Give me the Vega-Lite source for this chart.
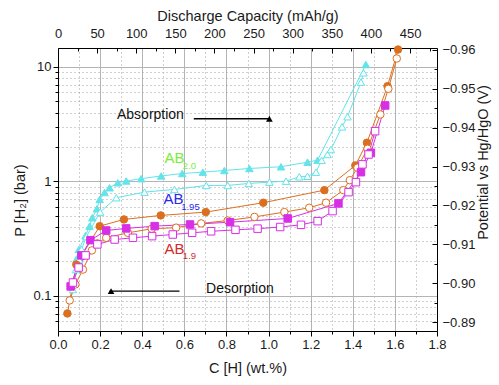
{
  "$schema": "https://vega.github.io/schema/vega-lite/v6.json",
  "width": 379,
  "height": 283,
  "autosize": {"type": "none"},
  "padding": {"left": 58, "top": 48, "right": 62, "bottom": 54},
  "background": "white",
  "config": {
    "view": {"stroke": null},
    "font": "Liberation Sans",
    "axis": {
      "labelFont": "Liberation Sans", "titleFont": "Liberation Sans",
      "labelFontSize": 13, "titleFontSize": 14.5, "titleFontWeight": "normal",
      "labelColor": "#1a1a1a", "titleColor": "#1a1a1a",
      "domainColor": "#000", "tickColor": "#000", "gridColor": "#b8b8b8",
      "labelFlush": false, "labelOverlap": false
    }
  },
  "datasets": {
    "series": [
      {"s":"a20","i":1,"x":0.088,"p":0.21},{"s":"a20","i":2,"x":0.099,"p":0.255},{"s":"a20","i":3,"x":0.131,"p":0.337},{"s":"a20","i":4,"x":0.150,"p":0.407},{"s":"a20","i":5,"x":0.163,"p":0.482},{"s":"a20","i":6,"x":0.185,"p":0.578},{"s":"a20","i":7,"x":0.198,"p":0.697},{"s":"a20","i":8,"x":0.221,"p":0.80},{"s":"a20","i":9,"x":0.245,"p":0.881},{"s":"a20","i":10,"x":0.284,"p":0.974},{"s":"a20","i":11,"x":0.324,"p":1.01},{"s":"a20","i":12,"x":0.395,"p":1.058},{"s":"a20","i":13,"x":0.490,"p":1.117},{"s":"a20","i":14,"x":0.590,"p":1.174},{"s":"a20","i":15,"x":0.688,"p":1.206},{"s":"a20","i":16,"x":0.790,"p":1.247},{"s":"a20","i":17,"x":0.909,"p":1.299},{"s":"a20","i":18,"x":1.059,"p":1.344},{"s":"a20","i":19,"x":1.185,"p":1.474},{"s":"a20","i":20,"x":1.233,"p":1.535},{"s":"a20","i":21,"x":1.462,"p":10.5},
      {"s":"d20","i":1,"x":0.071,"p":0.114},{"s":"d20","i":2,"x":0.085,"p":0.170},{"s":"d20","i":3,"x":0.100,"p":0.208},{"s":"d20","i":4,"x":0.112,"p":0.255},{"s":"d20","i":5,"x":0.135,"p":0.330},{"s":"d20","i":6,"x":0.200,"p":0.540},{"s":"d20","i":7,"x":0.277,"p":0.721},{"s":"d20","i":8,"x":0.411,"p":0.807},{"s":"d20","i":9,"x":0.553,"p":0.852},{"s":"d20","i":10,"x":0.704,"p":0.923},{"s":"d20","i":11,"x":0.806,"p":0.923},{"s":"d20","i":12,"x":0.906,"p":0.961},{"s":"d20","i":13,"x":1.004,"p":0.986},{"s":"d20","i":14,"x":1.083,"p":1.006},{"s":"d20","i":15,"x":1.146,"p":1.099},{"s":"d20","i":16,"x":1.185,"p":1.110},{"s":"d20","i":17,"x":1.225,"p":1.205},{"s":"d20","i":18,"x":1.252,"p":1.53},{"s":"d20","i":19,"x":1.280,"p":1.72},{"s":"d20","i":20,"x":1.296,"p":1.90},{"s":"d20","i":21,"x":1.349,"p":3.00},{"s":"d20","i":22,"x":1.375,"p":3.68},{"s":"d20","i":23,"x":1.439,"p":7.37},{"s":"d20","i":24,"x":1.451,"p":8.9},
      {"s":"a195","i":1,"x":0.0446,"p":0.0703},{"s":"a195","i":2,"x":0.087,"p":0.188},{"s":"a195","i":3,"x":0.198,"p":0.407},{"s":"a195","i":4,"x":0.313,"p":0.466},{"s":"a195","i":5,"x":0.488,"p":0.505},{"s":"a195","i":6,"x":0.702,"p":0.540},{"s":"a195","i":7,"x":0.975,"p":0.652},{"s":"a195","i":8,"x":1.265,"p":0.840},{"s":"a195","i":9,"x":1.412,"p":1.38},{"s":"a195","i":10,"x":1.467,"p":2.18},{"s":"a195","i":11,"x":1.565,"p":6.80},{"s":"a195","i":12,"x":1.615,"p":14.2},
      {"s":"d195","i":1,"x":0.0555,"p":0.0914},{"s":"d195","i":2,"x":0.0825,"p":0.126},{"s":"d195","i":3,"x":0.1185,"p":0.170},{"s":"d195","i":4,"x":0.161,"p":0.250},{"s":"d195","i":5,"x":0.187,"p":0.288},{"s":"d195","i":6,"x":0.229,"p":0.322},{"s":"d195","i":7,"x":0.332,"p":0.356},{"s":"d195","i":8,"x":0.445,"p":0.386},{"s":"d195","i":9,"x":0.561,"p":0.395},{"s":"d195","i":10,"x":0.680,"p":0.430},{"s":"d195","i":11,"x":0.806,"p":0.456},{"s":"d195","i":12,"x":0.933,"p":0.490},{"s":"d195","i":13,"x":1.075,"p":0.540},{"s":"d195","i":14,"x":1.193,"p":0.589},{"s":"d195","i":15,"x":1.273,"p":0.652},{"s":"d195","i":16,"x":1.355,"p":0.840},{"s":"d195","i":17,"x":1.386,"p":1.026},{"s":"d195","i":18,"x":1.422,"p":1.318},{"s":"d195","i":19,"x":1.470,"p":1.93},{"s":"d195","i":20,"x":1.531,"p":3.85},{"s":"d195","i":21,"x":1.569,"p":6.45},{"s":"d195","i":22,"x":1.609,"p":11.86},
      {"s":"a19","i":1,"x":0.060,"p":0.121},{"s":"a19","i":2,"x":0.111,"p":0.226},{"s":"a19","i":3,"x":0.154,"p":0.307},{"s":"a19","i":4,"x":0.229,"p":0.373},{"s":"a19","i":5,"x":0.324,"p":0.389},{"s":"a19","i":6,"x":0.459,"p":0.407},{"s":"a19","i":7,"x":0.627,"p":0.421},{"s":"a19","i":8,"x":0.817,"p":0.441},{"s":"a19","i":9,"x":1.091,"p":0.475},{"s":"a19","i":10,"x":1.332,"p":0.643},{"s":"a19","i":11,"x":1.439,"p":1.205},{"s":"a19","i":12,"x":1.486,"p":1.78},{"s":"a19","i":13,"x":1.554,"p":4.61},
      {"s":"d19","i":1,"x":0.071,"p":0.131},{"s":"d19","i":2,"x":0.098,"p":0.177},{"s":"d19","i":3,"x":0.131,"p":0.226},{"s":"d19","i":4,"x":0.187,"p":0.282},{"s":"d19","i":5,"x":0.269,"p":0.311},{"s":"d19","i":6,"x":0.356,"p":0.322},{"s":"d19","i":7,"x":0.447,"p":0.333},{"s":"d19","i":8,"x":0.545,"p":0.344},{"s":"d19","i":9,"x":0.637,"p":0.356},{"s":"d19","i":10,"x":0.727,"p":0.367},{"s":"d19","i":11,"x":0.843,"p":0.378},{"s":"d19","i":12,"x":0.948,"p":0.387},{"s":"d19","i":13,"x":1.055,"p":0.400},{"s":"d19","i":14,"x":1.154,"p":0.418},{"s":"d19","i":15,"x":1.233,"p":0.450},{"s":"d19","i":16,"x":1.304,"p":0.551},{"s":"d19","i":17,"x":1.380,"p":0.807},{"s":"d19","i":18,"x":1.415,"p":0.986},{"s":"d19","i":19,"x":1.446,"p":1.41},{"s":"d19","i":20,"x":1.475,"p":1.72},{"s":"d19","i":21,"x":1.506,"p":2.75}
    ],
    "arrows": [
      {"x":0.645,"x2":1.0,"p":3.53,"hx":1.004,"d":"r"},
      {"x":0.577,"x2":0.245,"p":0.110,"hx":0.252,"d":"l"}
    ],
    "words": [
      {"t":"Absorption","x":0.439,"p":3.77},
      {"t":"Desorption","x":0.864,"p":0.114}
    ],
    "ab": [
      {"k":"20","t":"AB","x":0.506,"p":1.61},
      {"k":"195","t":"AB","x":0.501,"p":0.696},
      {"k":"19","t":"AB","x":0.506,"p":0.255}
    ],
    "subs": [
      {"k":"20","t":"2.0","x":0.593,"p":1.36},
      {"k":"195","t":"1.95","x":0.585,"p":0.601},
      {"k":"19","t":"1.9","x":0.593,"p":0.223}
    ]
  },
  "layer": [
    {
      "data": {"values": [{"x": 0, "p": 1}]},
      "mark": {"type": "point", "opacity": 0},
      "encoding": {
        "x": {"field": "x", "type": "quantitative", "scale": {"domain": [0, 1.8], "nice": false, "zero": false},
          "axis": {"orient": "bottom", "values": [0.1,0.3,0.5,0.7,0.9,1.1,1.3,1.5,1.7], "labels": false, "domain": false, "tickSize": 3, "grid": true, "gridDash": [1,3], "gridColor": "#a0a0a0", "title": null}},
        "y": {"field": "p", "type": "quantitative", "scale": {"type": "log", "domain": [0.0494, 14.65], "nice": false},
          "axis": {"orient": "left", "values": [0.06,0.07,0.08,0.09,0.2,0.3,0.4,0.5,0.6,0.7,0.8,0.9,2,3,4,5,6,7,8,9], "labels": false, "domain": false, "tickSize": 3, "grid": true, "gridDash": [1,3], "gridColor": "#a0a0a0", "title": null}}
      }
    },
    {
      "encoding": {
        "x": {"field": "x", "type": "quantitative", "scale": {"domain": [0, 1.8], "nice": false, "zero": false},
          "axis": {"orient": "bottom", "values": [0,0.2,0.4,0.6,0.8,1.0,1.2,1.4,1.6,1.8], "format": ".1f", "tickSize": 5, "grid": true, "gridColor": "#b4b4b4", "title": "C [H] (wt.%)", "labelPadding": 2, "titlePadding": 10}},
        "y": {"field": "p", "type": "quantitative", "scale": {"type": "log", "domain": [0.0494, 14.65], "nice": false},
          "axis": {"orient": "left", "values": [0.1, 1, 10], "format": "~g", "tickSize": 5, "grid": true, "gridColor": "#b4b4b4", "title": "P [H₂] (bar)", "labelPadding": 2, "titlePadding": 5, "titleY": 152}}
      },
      "layer": [
        {
          "data": {"name": "series"},
          "mark": {"type": "line", "strokeWidth": 1},
          "encoding": {
            "stroke": {"field": "s", "type": "nominal", "legend": null,
              "scale": {"domain": ["a20","d20","a195","d195","a19","d19"], "range": ["#62e4ea","#62e4ea","#dc6f1f","#dc6f1f","#d82ee6","#d82ee6"]}},
            "order": {"field": "i", "type": "quantitative"}
          }
        },
        {
          "data": {"name": "series"},
          "mark": {"type": "point", "filled": true, "size": 56, "strokeWidth": 1, "opacity": 1},
          "encoding": {
            "stroke": {"field": "s", "type": "nominal", "legend": null},
            "fill": {"field": "s", "type": "nominal", "legend": null,
              "scale": {"domain": ["a20","d20","a195","d195","a19","d19"], "range": ["#62e4ea","#ffffff","#dc6f1f","#ffffff","#d82ee6","#ffffff"]}},
            "shape": {"field": "s", "type": "nominal", "legend": null,
              "scale": {"domain": ["a20","d20","a195","d195","a19","d19"], "range": ["triangle-up","triangle-up","circle","circle","square","square"]}}
          }
        },
        {
          "data": {"name": "arrows"},
          "mark": {"type": "rule", "color": "#000", "strokeWidth": 1.3},
          "encoding": {"x2": {"field": "x2"}}
        },
        {
          "data": {"name": "arrows"},
          "mark": {"type": "point", "filled": true, "color": "#000", "size": 45, "opacity": 1},
          "encoding": {
            "x": {"field": "hx", "type": "quantitative"},
            "shape": {"field": "d", "type": "nominal", "legend": null, "scale": {"domain": ["r","l"], "range": ["triangle-right","triangle-left"]}}
          }
        },
        {
          "data": {"name": "words"},
          "mark": {"type": "text", "font": "Liberation Sans", "fontSize": 14, "color": "#111", "align": "center", "baseline": "middle"},
          "encoding": {"text": {"field": "t"}}
        },
        {
          "data": {"name": "ab"},
          "mark": {"type": "text", "font": "Liberation Sans", "fontSize": 15, "align": "left", "baseline": "middle"},
          "encoding": {"text": {"field": "t"},
            "color": {"field": "k", "type": "nominal", "legend": null, "scale": {"domain": ["20","195","19"], "range": ["#7aee3a","#2a2af0","#d42a2a"]}}}
        },
        {
          "data": {"name": "subs"},
          "mark": {"type": "text", "font": "Liberation Sans", "fontSize": 9.5, "align": "left", "baseline": "middle"},
          "encoding": {"text": {"field": "t"},
            "color": {"field": "k", "type": "nominal", "legend": null}}
        }
      ]
    },
    {
      "data": {"values": [{"c": 0, "v": -0.9}]},
      "mark": {"type": "point", "opacity": 0},
      "encoding": {
        "x": {"field": "c", "type": "quantitative", "scale": {"domain": [0, 484.5], "nice": false, "zero": false},
          "axis": {"orient": "top", "values": [0,50,100,150,200,250,300,350,400,450], "ticks": false, "grid": false, "labelPadding": 8, "title": "Discharge Capacity (mAh/g)", "titlePadding": 4}},
        "y": {"field": "v", "type": "quantitative", "scale": {"domain": [-0.9605, -0.8877], "reverse": true, "nice": false, "zero": false},
          "axis": {"orient": "right", "values": [-0.96,-0.95,-0.94,-0.93,-0.92,-0.91,-0.90,-0.89], "format": ".2f", "ticks": false, "grid": false, "labelPadding": 5, "title": "Potential vs Hg/HgO (V)", "titleAngle": 270, "titleBaseline": "top", "titlePadding": 2, "titleY": 114}}
      }
    },
    {
      "data": {"values": [{"c": 0, "v": -0.9}]},
      "mark": {"type": "point", "opacity": 0},
      "encoding": {
        "x": {"field": "c", "type": "quantitative", "scale": {"domain": [0, 484.5], "nice": false, "zero": false},
          "axis": {"orient": "top", "values": [0,25,50,75,100,125,150,175,200,225,250,275,300,325,350,375,400,425,450,475], "labels": false, "domain": false, "grid": false, "title": null,
            "tickSize": {"condition": {"test": "datum.value % 50 === 0", "value": -5}, "value": -3}}},
        "y": {"field": "v", "type": "quantitative", "scale": {"domain": [-0.9605, -0.8877], "reverse": true, "nice": false, "zero": false},
          "axis": {"orient": "right", "values": [-0.96,-0.955,-0.95,-0.945,-0.94,-0.935,-0.93,-0.925,-0.92,-0.915,-0.91,-0.905,-0.90,-0.895,-0.89], "labels": false, "domain": false, "grid": false, "title": null,
            "tickSize": {"condition": {"test": "abs(datum.value*100 - round(datum.value*100)) < 0.01", "value": -5}, "value": -3}}}
      }
    }
  ],
  "resolve": {"scale": {"x": "independent", "y": "independent"}}
}
